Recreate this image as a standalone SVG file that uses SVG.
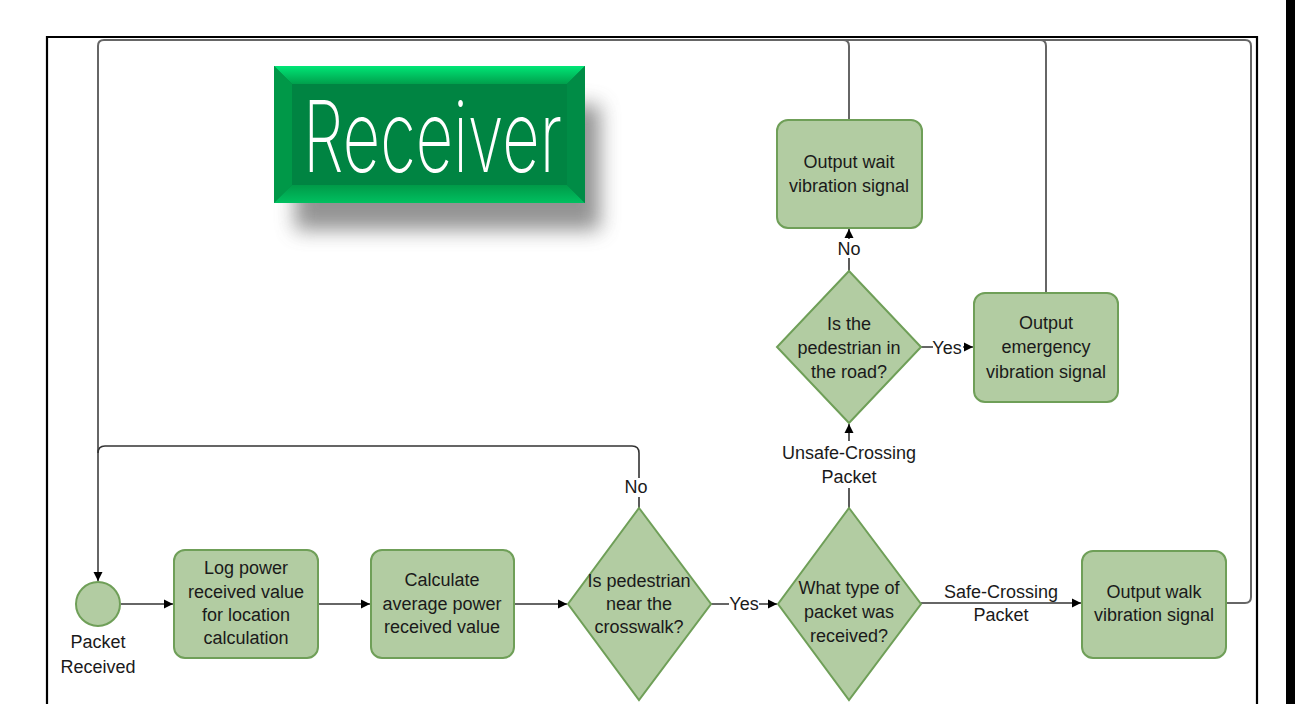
<svg xmlns="http://www.w3.org/2000/svg" width="1295" height="704" viewBox="0 0 1295 704">
<defs>
<style>
.node{fill:#b2cca2;stroke:#6f9f58;stroke-width:2}
.t{font-family:"Liberation Sans",Arial,sans-serif;font-size:18px;fill:#1a1a1a;text-anchor:middle}
.c{fill:none;stroke:#333;stroke-width:1.6}
.g{fill:none;stroke:#666;stroke-width:2}
.lbg{fill:#fff}
</style>
<marker id="ah" markerUnits="userSpaceOnUse" markerWidth="10" markerHeight="10" refX="9" refY="5" orient="auto">
<path d="M0,0.5 L9,5 L0,9.5 z" fill="#000"/>
</marker>
<filter id="blur" x="-20%" y="-40%" width="140%" height="180%">
<feGaussianBlur stdDeviation="10"/>
</filter>
<linearGradient id="topbev" x1="0" y1="0" x2="0" y2="1">
<stop offset="0" stop-color="#00e676"/>
<stop offset="1" stop-color="#00a04c"/>
</linearGradient>
<linearGradient id="botbev" x1="0" y1="0" x2="0" y2="1">
<stop offset="0" stop-color="#009a48"/>
<stop offset="1" stop-color="#00c060"/>
</linearGradient>
</defs>
<rect width="1295" height="704" fill="#fff"/>
<rect x="1286" y="0" width="9" height="704" fill="#000"/>
<path d="M47,704 V37 H1257 V704" fill="none" stroke="#000" stroke-width="2.2"/>

<g id="title">
<rect x="295" y="105" width="305" height="125" fill="#666" opacity="0.7" filter="url(#blur)"/>
<rect x="274" y="66" width="311" height="137" fill="#008442"/>
<polygon points="274,66 585,66 567,84 292,84" fill="url(#topbev)"/>
<polygon points="274,66 292,84 292,185 274,203" fill="#009848"/>
<polygon points="274,203 292,185 567,185 585,203" fill="url(#botbev)"/>
<polygon points="585,66 585,203 567,185 567,84" fill="#008c46"/>
<text x="303" y="172" font-family="Inter,Roboto,'DejaVu Sans',sans-serif" font-weight="200" font-size="99" fill="#fff" textLength="259" lengthAdjust="spacingAndGlyphs">Receiver</text>
</g>

<g id="connectors">
<path class="g" d="M849,120 V46 Q849,40 843,40"/>
<path class="g" d="M1046,293 V46 Q1046,40 1040,40"/>
<path class="g" d="M1226,603 H1245 Q1251,603 1251,597 V46 Q1251,40 1245,40 H104 Q98,40 98,46 V581" marker-end="url(#ah)" stroke="#555"/>
<path class="c" d="M639,508 V453 Q639,446 632,446 H105 Q98,446 98,453"/>
<path class="c" d="M121,604 H173" marker-end="url(#ah)"/>
<path class="c" d="M318,604 H370" marker-end="url(#ah)"/>
<path class="c" d="M514,604 H567" marker-end="url(#ah)"/>
<path class="c" d="M711,604 H777" marker-end="url(#ah)"/>
<path class="c" d="M921,603 H1081" marker-end="url(#ah)"/>
<path class="c" d="M849,508 V424" marker-end="url(#ah)"/>
<path class="c" d="M849,271 V229" marker-end="url(#ah)"/>
<path class="c" d="M921,347 H973" marker-end="url(#ah)"/>
<rect class="lbg" x="624" y="478" width="30" height="19"/>
<text class="t" x="636" y="493">No</text>
<rect class="lbg" x="729" y="595" width="30" height="18"/>
<text class="t" x="744" y="610">Yes</text>
<rect class="lbg" x="780" y="441" width="138" height="47"/>
<text class="t" x="849" y="459">Unsafe-Crossing</text>
<text class="t" x="849" y="483">Packet</text>
<text class="t" x="1001" y="598">Safe-Crossing</text>
<text class="t" x="1001" y="621">Packet</text>
<rect class="lbg" x="836" y="239" width="27" height="19"/>
<text class="t" x="849" y="255">No</text>
<rect class="lbg" x="933" y="339" width="30" height="18"/>
<text class="t" x="947" y="354">Yes</text>
</g>

<g id="packet-received">
<circle class="node" cx="98" cy="604" r="22"/>
<text class="t" x="98" y="648">Packet</text>
<text class="t" x="98" y="673">Received</text>
</g>

<g id="log-power">
<rect class="node" x="174" y="550" width="144" height="108" rx="11"/>
<text class="t" x="246" y="574">Log power</text>
<text class="t" x="246" y="598">received value</text>
<text class="t" x="246" y="621">for location</text>
<text class="t" x="246" y="644">calculation</text>
</g>

<g id="calculate">
<rect class="node" x="371" y="550" width="143" height="108" rx="11"/>
<text class="t" x="442" y="586">Calculate</text>
<text class="t" x="442" y="610">average power</text>
<text class="t" x="442" y="633">received value</text>
</g>

<g id="near-crosswalk">
<polygon class="node" points="639,508 711,604 639,700 568,604"/>
<text class="t" x="639" y="587">Is pedestrian</text>
<text class="t" x="639" y="610">near the</text>
<text class="t" x="639" y="633">crosswalk?</text>
</g>

<g id="packet-type">
<polygon class="node" points="849,508 921,604 849,700 778,604"/>
<text class="t" x="849" y="594">What type of</text>
<text class="t" x="849" y="618">packet was</text>
<text class="t" x="849" y="642">received?</text>
</g>

<g id="walk">
<rect class="node" x="1082" y="551" width="144" height="107" rx="11"/>
<text class="t" x="1154" y="598">Output walk</text>
<text class="t" x="1154" y="621">vibration signal</text>
</g>

<g id="in-road">
<polygon class="node" points="849,271 921,347 849,423 777,347"/>
<text class="t" x="849" y="330">Is the</text>
<text class="t" x="849" y="354">pedestrian in</text>
<text class="t" x="849" y="378">the road?</text>
</g>

<g id="wait">
<rect class="node" x="777" y="120" width="145" height="108" rx="11"/>
<text class="t" x="849" y="168">Output wait</text>
<text class="t" x="849" y="192">vibration signal</text>
</g>

<g id="emergency">
<rect class="node" x="974" y="293" width="144" height="109" rx="11"/>
<text class="t" x="1046" y="329">Output</text>
<text class="t" x="1046" y="353">emergency</text>
<text class="t" x="1046" y="378">vibration signal</text>
</g>
</svg>
